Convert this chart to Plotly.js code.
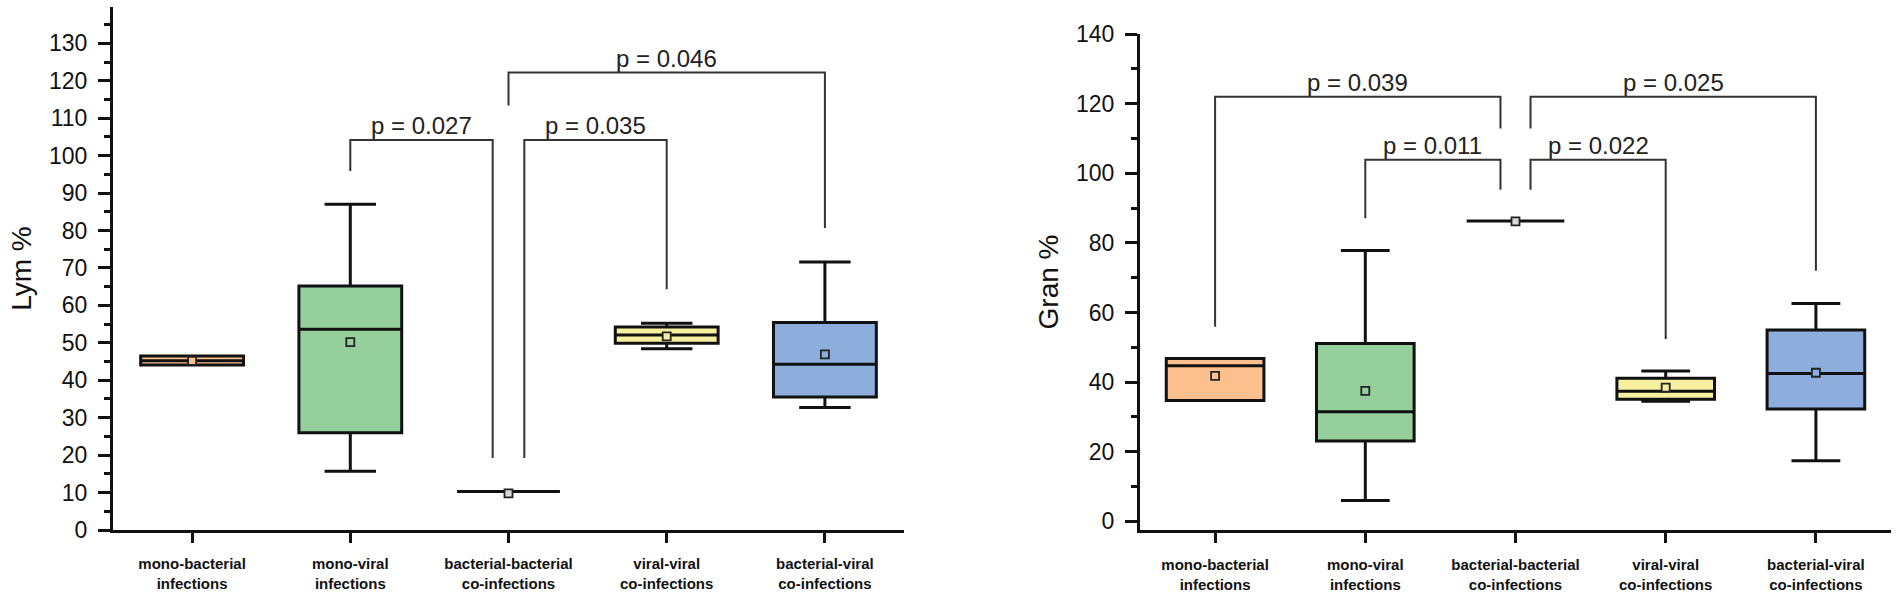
<!DOCTYPE html>
<html><head><meta charset="utf-8">
<script src="https://cdn.plot.ly/plotly-3.0.1.min.js"></script>
<style>html,body{margin:0;padding:0;background:#fff}#chart{width:1902px;height:592px}</style>
</head><body><div id="chart"></div>
<script>
// ---- categories & tick labels ----
const categories = ["mono-bacterial infections","mono-viral infections","bacterial-bacterial co-infections","viral-viral co-infections","bacterial-viral co-infections"];
const tickLine1 = ["mono-bacterial","mono-viral","bacterial-bacterial","viral-viral","bacterial-viral"];
const tickLine2 = ["infections","infections","co-infections","co-infections","co-infections"];
const boxColors = ["#FBC08E","#95CF9B","#D9D9D9","#F6F0A0","#8DAEDC"];

// ---- Lym % (left panel) ----
const lymMin    = [44.1, 15.7, 10.3, 48.4, 32.7];
const lymQ1     = [44.1, 26.0, 10.3, 49.9, 35.5];
const lymMedian = [45.2, 53.6, 10.3, 52.1, 44.3];
const lymQ3     = [46.5, 65.2, 10.3, 54.2, 55.4];
const lymMax    = [46.5, 87.0, 10.3, 55.2, 71.6];
const lymMean   = [45.2, 50.2,  9.8, 51.7, 46.9];
const lymPText  = ["p = 0.027","p = 0.035","p = 0.046"];
const lymFrom   = [1, 2, 2];
const lymTo     = [2, 3, 4];
const lymTop    = [104.2, 104.2, 122.2];
const lymFromEnd= [95.9, 19.2, 113.4];
const lymToEnd  = [19.2, 64.3, 80.7];

// ---- Gran % (right panel) ----
const granMin    = [34.7,  6.0, 86.3, 34.5, 17.4];
const granQ1     = [34.7, 23.1, 86.3, 35.1, 32.3];
const granMedian = [44.7, 31.5, 86.3, 37.4, 42.5];
const granQ3     = [46.8, 51.1, 86.3, 41.1, 55.0];
const granMax    = [46.8, 77.8, 86.3, 43.2, 62.6];
const granMean   = [41.8, 37.5, 86.2, 38.4, 42.7];
const granPText  = ["p = 0.039","p = 0.025","p = 0.011","p = 0.022"];
const granFrom   = [0, 2, 1, 2];
const granTo     = [2, 4, 2, 3];
const granTop    = [122.0, 122.0, 103.9, 103.9];
const granFromEnd= [55.9, 112.9, 87.1, 95.3];
const granToEnd  = [112.9, 72.0, 95.3, 52.4];

const xs = categories.map((c,i)=>i);
const tickText = tickLine1.map((t,i)=>t+"<br>"+tickLine2[i]);
const traces = [];
const shapes = [];
const annotations = [];

function addPanel(xa, ya, mn, q1, md, q3, mx, mean, ptext, from, to, top, fromEnd, toEnd){
  xs.forEach(i=>{
    traces.push({type:'box', x:[i], q1:[q1[i]], median:[md[i]], q3:[q3[i]],
      lowerfence:[mn[i]], upperfence:[mx[i]], xaxis:xa, yaxis:ya,
      width:0.65, whiskerwidth:0.5, fillcolor:boxColors[i],
      line:{color:'#111', width:3}, boxpoints:false, hoverinfo:'skip', name:categories[i]});
  });
  traces.push({type:'scatter', mode:'markers', x:xs, y:mean, xaxis:xa, yaxis:ya,
    marker:{symbol:'square', size:8, color:xs.map(i=>boxColors[i]), line:{color:'#222', width:1.8}},
    hoverinfo:'skip'});
  ptext.forEach((t,k)=>{
    let a = from[k], b = to[k];
    // shift legs apart where two brackets at the same level share a group
    const shareA = from.some((f,j)=>j!==k && top[j]===top[k] && to[j]===from[k]);
    const shareB = to.some((f,j)=>j!==k && top[j]===top[k] && from[j]===to[k]);
    if (shareA) a += 0.1;
    if (shareB) b -= 0.1;
    shapes.push({type:'path', xref:xa, yref:ya,
      path:`M ${a},${fromEnd[k]} L ${a},${top[k]} L ${b},${top[k]} L ${b},${toEnd[k]}`,
      line:{color:'#333', width:2}});
    annotations.push({xref:xa, yref:ya, x:(a+b)/2, y:top[k], text:t, showarrow:false,
      yanchor:'bottom', xanchor:'center', yshift:-1,
      font:{family:'Liberation Sans, Arial, sans-serif', size:24, color:'#222'}});
  });
}

addPanel('x','y', lymMin, lymQ1, lymMedian, lymQ3, lymMax, lymMean, lymPText, lymFrom, lymTo, lymTop, lymFromEnd, lymToEnd);
addPanel('x2','y2', granMin, granQ1, granMedian, granQ3, granMax, granMean, granPText, granFrom, granTo, granTop, granFromEnd, granToEnd);

const W = 1902, H = 592;
const xFont = {family:'Liberation Sans Narrow, Arial Narrow, Liberation Sans, Arial, sans-serif', size:15, color:'#111', weight:'bold'};
const yFont = {family:'Liberation Sans, Arial, sans-serif', size:23, color:'#111'};
const titleFont = {family:'Liberation Sans, Arial, sans-serif', size:28, color:'#111'};
const xCommon = {range:[-0.5,4.5], tickmode:'array', tickvals:xs, ticktext:tickText,
  ticks:'outside', ticklen:10, tickwidth:3, tickcolor:'#111', showline:true, linewidth:3, linecolor:'#111',
  showgrid:false, zeroline:false, tickfont:xFont, fixedrange:true};
const yCommon = {ticks:'outside', tickwidth:3, ticklen:12, tickcolor:'#111', showline:true, linewidth:3, linecolor:'#111',
  showgrid:false, zeroline:false, tickfont:yFont, fixedrange:true, tickmode:'linear', tick0:0};

const layout = {
  width:W, height:H, margin:{l:0,r:0,t:0,b:0}, paper_bgcolor:'#fff', plot_bgcolor:'#fff',
  showlegend:false, boxmode:'overlay',
  xaxis:Object.assign({}, xCommon, {domain:[113/W, 904/W], anchor:'y', ticklabelstandoff:8}),
  yaxis:Object.assign({}, yCommon, {domain:[1-530/H, 1-7/H], anchor:'x', range:[0,139.7], dtick:10,
    minor:{ticks:'outside', ticklen:6, tickwidth:3, tickcolor:'#111', dtick:5, tick0:0, showgrid:false},
    ticklabelstandoff:6,
    title:{text:'Lym %', font:titleFont, standoff:10}}),
  xaxis2:Object.assign({}, xCommon, {domain:[1140/W, 1891/W], anchor:'y2', ticklabelstandoff:9}),
  yaxis2:Object.assign({}, yCommon, {domain:[1-530/H, 1-34/H], anchor:'x2', range:[-2.5,140.05], dtick:20,
    minor:{ticks:'outside', ticklen:6, tickwidth:3, tickcolor:'#111', dtick:10, tick0:0, showgrid:false},
    ticklabelstandoff:6,
    title:{text:'Gran %', font:titleFont, standoff:10}}),
  shapes:shapes, annotations:annotations
};
Plotly.newPlot('chart', traces, layout, {displayModeBar:false, staticPlot:true});
</script></body></html>
